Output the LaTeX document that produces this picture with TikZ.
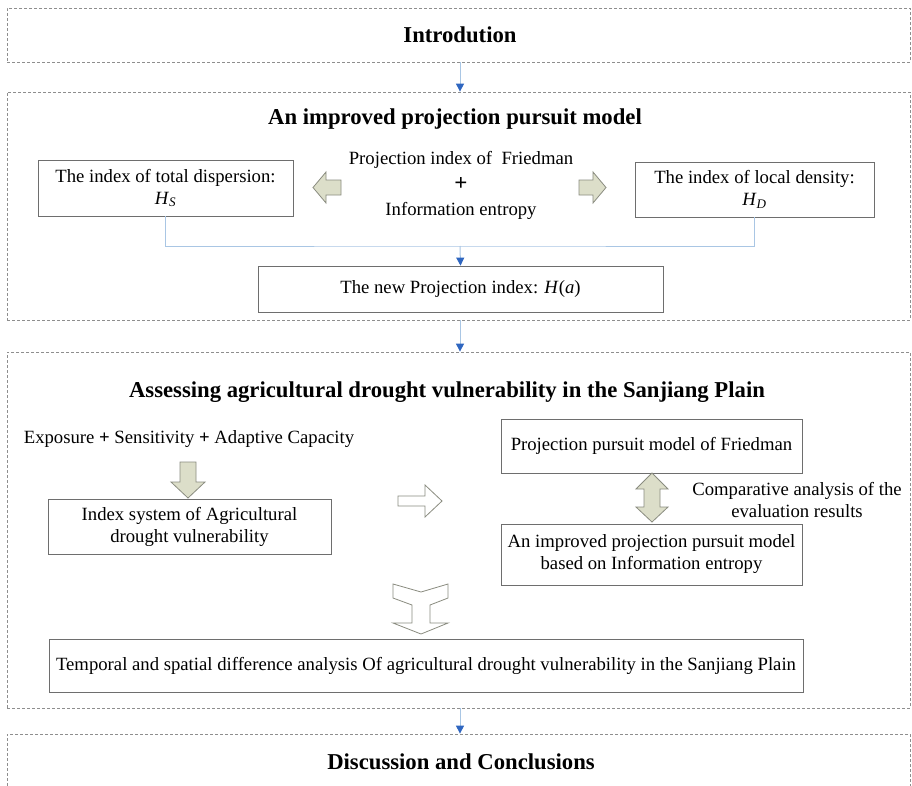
\documentclass[tikz,border=0pt]{standalone}
\usepackage{fontspec}
\setmainfont{Liberation Serif}
\usetikzlibrary{arrows.meta}
\definecolor{dashgray}{HTML}{8E8E8E}
\definecolor{boxgray}{HTML}{6E6E6E}
\definecolor{linkblue}{HTML}{A9C6E4}
\definecolor{tipblue}{HTML}{2F66C0}
\definecolor{arrowfill}{HTML}{DCDEC9}
\definecolor{arrowedge}{HTML}{8A8C80}
\newcommand{\itx}[1]{\textit{#1}}
\tikzset{
  secbox/.style={draw=dashgray, dashed, dash pattern=on 3pt off 2pt, line width=0.8pt, rectangle, inner sep=0pt},
  plainbox/.style={draw=boxgray, line width=0.8pt, rectangle, inner sep=0pt, align=center, font=\fontsize{18.7}{22}\selectfont},
  sectitle/.style={font=\fontsize{22.7}{26}\selectfont\bfseries},
  bodytext/.style={font=\fontsize{18.7}{25.5}\selectfont, align=center, inner sep=0pt},
  link/.style={draw=linkblue, line width=1pt},
  linkarrow/.style={draw=linkblue, line width=1pt, -{Triangle[width=8pt,length=8pt,color=tipblue,fill=tipblue]}},
  blockarrow/.style={draw=arrowedge, fill=arrowfill, line width=0.8pt, line join=miter},
  hollowarrow/.style={draw=arrowedge, fill=white, line width=0.8pt, line join=miter},
}
\begin{document}
\begin{tikzpicture}[x=1pt,y=-1pt]
\useasboundingbox (0,0) rectangle (912,785);
\clip (0,0) rectangle (912,785);
\fill[white] (0,0) rectangle (912,785);

% section frames
\node[secbox, minimum width=903pt, minimum height=54pt] (intro) at (458.5,35) {};
\node[secbox, minimum width=903pt, minimum height=228pt] (sec2) at (458.5,206) {};
\node[secbox, minimum width=903pt, minimum height=356pt] (sec3) at (458.5,530) {};
\node[secbox, minimum width=903pt, minimum height=100pt] (sec4) at (458.5,784) {};

% titles
\node[sectitle] (tintro) at (460,35) {Introdution};
\node[sectitle] (t2) at (455,119) {An improved projection pursuit model};
\node[sectitle] (t3) at (447,392) {Assessing agricultural drought vulnerability in the Sanjiang Plain};
\node[sectitle] (t4) at (461,762) {Discussion and Conclusions};

% section 2
\node[plainbox, minimum width=255pt, minimum height=56pt] (hs) at (165.5,188) {The index of total dispersion:\\ \itx{H}\textsubscript{\itx{S}}};
\node[plainbox, minimum width=239pt, minimum height=55pt] (hd) at (754.5,189.5) {The index of local density:\\ \itx{H}\textsubscript{\itx{D}}};
\node[bodytext] (fried) at (461,185.5) {Projection index of\ \ Friedman\\ {\fontsize{23}{25.5}\selectfont\textbf{+}}\\ Information entropy};
\node[plainbox, minimum width=405pt, minimum height=46pt] (hnew) at (460.5,289) {The new Projection index: \itx{H}(\itx{a})};

% block arrows section 2
\draw[blockarrow] (313,187.5) -- (326,172) -- (326,180) -- (341,180) -- (341,195) -- (326,195) -- (326,203) -- cycle;
\draw[blockarrow] (606,187.5) -- (593,172) -- (593,180) -- (579,180) -- (579,195) -- (593,195) -- (593,203) -- cycle;

% connectors section 2
\coordinate (join) at (460,246);
\draw[link] (hs.south) |- (join) -| (hd.south);
\draw[linkarrow] (join) -- (hnew.north);

% inter-section arrows
\draw[linkarrow] (intro.south -| tintro) -- (sec2.north -| tintro);
\draw[linkarrow] (sec2.south -| tintro) -- (sec3.north -| tintro);
\draw[linkarrow] (sec3.south -| tintro) -- (sec4.north -| tintro);

% section 3
\node[bodytext] (expo) at (189,439) {Exposure \textbf{+} Sensitivity \textbf{+} Adaptive Capacity};
\draw[blockarrow] (180,462) -- (196,462) -- (196,482) -- (205,482) -- (188,498) -- (171,482) -- (180,482) -- cycle;
\node[plainbox, minimum width=283pt, minimum height=55pt] (isys) at (189.5,526.5) {Index system of Agricultural\\ drought vulnerability};
\draw[hollowarrow] (398,496) -- (425,496) -- (425,485) -- (442,501) -- (425,517) -- (425,506) -- (398,506) -- cycle;
\node[plainbox, minimum width=301pt, minimum height=54pt] (ppf) at (651.5,446) {Projection pursuit model of Friedman};
\node[plainbox, minimum width=301pt, minimum height=61pt] (ipp) at (651.5,554.5) {An improved projection pursuit model\\ based on Information entropy};
\draw[blockarrow] (652,473) -- (668,489) -- (660,489) -- (660,507) -- (668,507) -- (652,522) -- (636,507) -- (644,507) -- (644,489) -- (636,489) -- cycle;
\node[bodytext, font=\fontsize{18.7}{22}\selectfont] (comp) at (797,500) {Comparative analysis of the\\ evaluation results};
\draw[hollowarrow] (393,584) -- (421,592) -- (448,584) -- (448,598) -- (430,605) -- (430,623) -- (448,623) -- (421,634) -- (393,623) -- (412,623) -- (412,605) -- (393,598) -- cycle;
\node[plainbox, minimum width=754pt, minimum height=53pt] (temp) at (426,665.5) {Temporal and spatial difference analysis Of agricultural drought vulnerability in the Sanjiang Plain};
\end{tikzpicture}
\end{document}
